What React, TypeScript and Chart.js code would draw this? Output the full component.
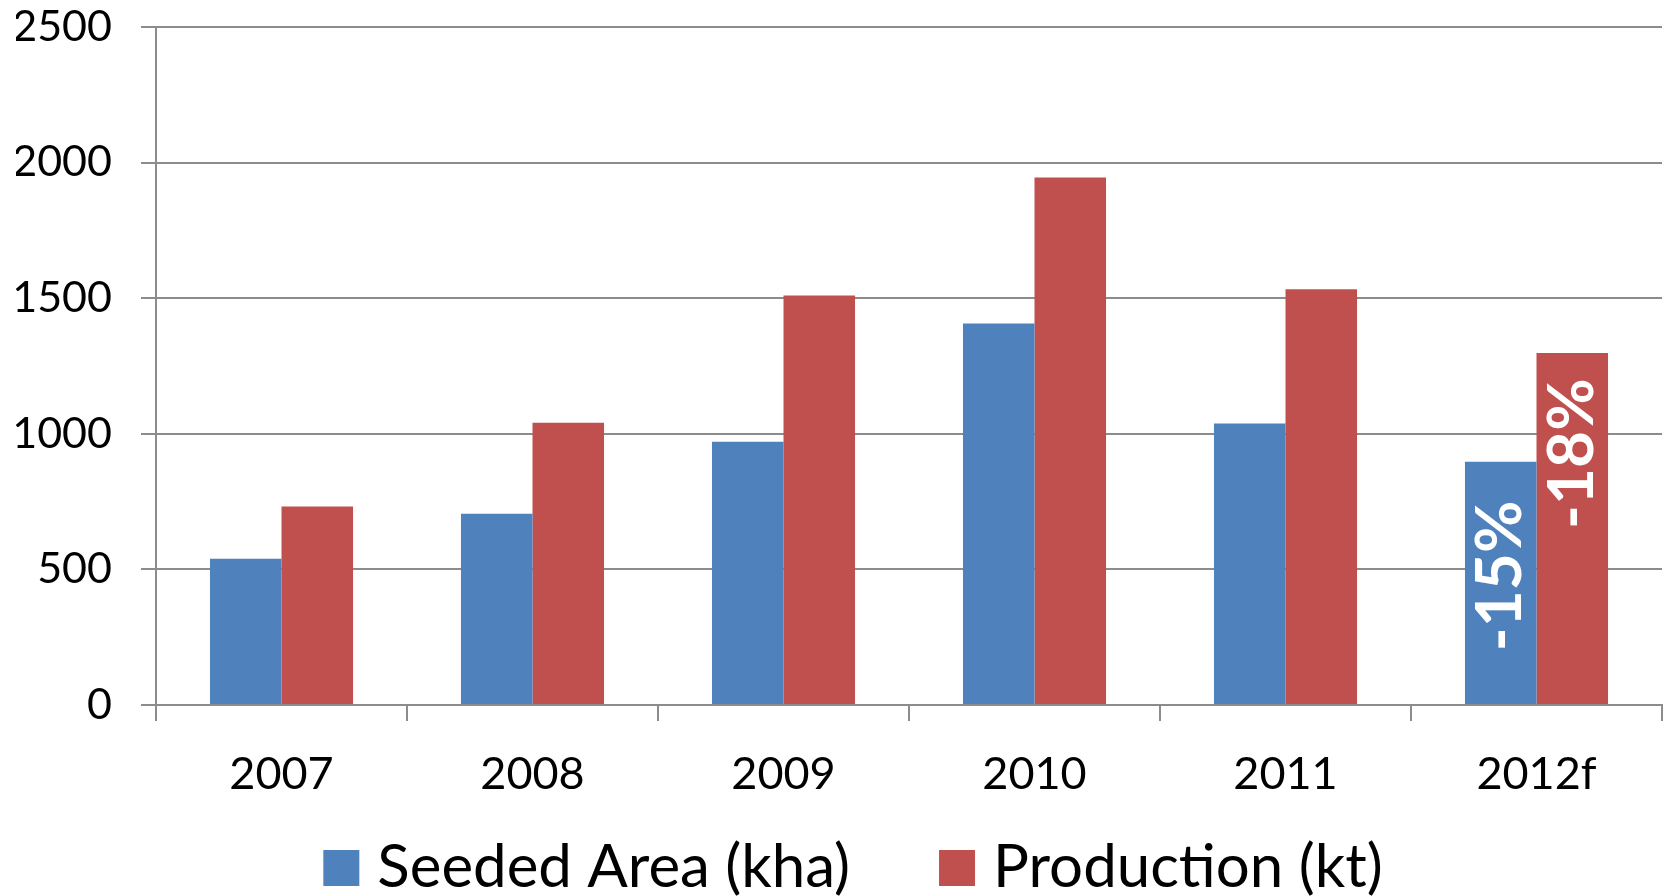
import { useEffect, useRef } from 'react';
import { Chart, registerables } from 'chart.js';

Chart.register(...registerables);

const categories = ['2007', '2008', '2009', '2010', '2011', '2012f'];
const seededArea = [539, 705, 971, 1407, 1038, 897];
const production = [732, 1041, 1510, 1945, 1533, 1298];
const yTickValues = [0, 500, 1000, 1500, 2000, 2500];
const changeLabels = ['-15%', '-18%'];

const seriesNames = ['Seeded Area (kha)', 'Production (kt)'];
const seriesColors = ['#4F81BD', '#C0504D'];

const FONT = 'Lato, "Open Sans", sans-serif';
const GRID = '#8c8c8c';

const changeLabelPlugin = {
  id: 'changeLabels',
  afterDatasetsDraw(chart: any, _args: any, opts: any) {
    const { ctx } = chart;
    const yScale = chart.scales.y;
    chart.data.datasets.forEach((_ds: any, i: number) => {
      const meta = chart.getDatasetMeta(i);
      const bar = meta.data[meta.data.length - 1];
      if (!bar) return;
      const y = yScale.getPixelForValue(opts.centers[i]);
      ctx.save();
      ctx.translate(bar.x, y);
      ctx.rotate(-Math.PI / 2);
      ctx.fillStyle = '#ffffff';
      ctx.font = `bold ${opts.size}px ${FONT}`;
      ctx.textAlign = 'center';
      ctx.textBaseline = 'middle';
      ctx.fillText(changeLabels[i], 0, 0);
      ctx.restore();
    });
  },
};

const legendPlugin = {
  id: 'customLegend',
  afterDraw(chart: any, _args: any, opts: any) {
    const { ctx } = chart;
    ctx.save();
    ctx.font = `${opts.size}px ${FONT}`;
    ctx.textBaseline = 'middle';
    ctx.textAlign = 'left';
    const ds = chart.data.datasets;
    const widths = ds.map((d: any) => ctx.measureText(d.label).width);
    let total = 0;
    widths.forEach((w: number, i: number) => {
      total += opts.box + opts.textGap + w + (i < widths.length - 1 ? opts.itemGap : 0);
    });
    let x = opts.centerX - total / 2;
    const y = opts.centerY;
    ds.forEach((d: any, i: number) => {
      ctx.fillStyle = d.backgroundColor;
      ctx.fillRect(x, y - opts.box / 2, opts.box, opts.box);
      x += opts.box + opts.textGap;
      ctx.fillStyle = '#000';
      ctx.fillText(d.label, x, y);
      x += widths[i] + opts.itemGap;
    });
    ctx.restore();
  },
};

export default function App() {
  const ref = useRef<HTMLCanvasElement | null>(null);

  useEffect(() => {
    if (!ref.current) return;
    const chart = new Chart(ref.current, {
      type: 'bar',
      data: {
        labels: categories,
        datasets: [
          {
            label: seriesNames[0],
            data: seededArea,
            backgroundColor: seriesColors[0],
            categoryPercentage: 0.57,
            barPercentage: 1.0,
          },
          {
            label: seriesNames[1],
            data: production,
            backgroundColor: seriesColors[1],
            categoryPercentage: 0.57,
            barPercentage: 1.0,
          },
        ],
      },
      options: {
        animation: false,
        responsive: true,
        maintainAspectRatio: false,
        layout: { padding: { left: 16, right: 5, top: 27, bottom: 69 } },
        plugins: {
          legend: { display: false },
          tooltip: { enabled: false },
          changeLabels: { size: 64, centers: [476, 927] },
          customLegend: { size: 60, box: 36, textGap: 18, itemGap: 89, centerX: 853, centerY: 868 },
        } as any,
        scales: {
          x: {
            offset: true,
            grid: {
              offset: true,
              drawOnChartArea: false,
              drawTicks: true,
              tickLength: 16,
              color: GRID,
              lineWidth: 2,
            },
            border: { display: true, color: GRID, width: 2 },
            ticks: {
              color: '#000',
              font: { family: FONT, size: 45 },
              padding: 26,
              maxRotation: 0,
            },
          },
          y: {
            min: 0,
            max: 2500,
            afterBuildTicks: (scale: any) => {
              scale.ticks = yTickValues.map((v) => ({ value: v }));
            },
            afterFit: (scale: any) => {
              scale.paddingTop = 0;
              scale.paddingBottom = 0;
              scale.width = 140;
            },
            grid: {
              color: GRID,
              lineWidth: 2,
              drawTicks: true,
              tickLength: 15,
            },
            border: { display: true, color: GRID, width: 2 },
            ticks: {
              color: '#000',
              font: { family: FONT, size: 43 },
              padding: 29,
              callback: (v: any) => String(v),
            },
          },
        },
      },
      plugins: [changeLabelPlugin, legendPlugin],
    });
    return () => chart.destroy();
  }, []);

  return (
    <div style={{ position: 'fixed', left: 0, top: 0, width: 1667, height: 896, background: '#fff' }}>
      <canvas ref={ref} />
    </div>
  );
}
